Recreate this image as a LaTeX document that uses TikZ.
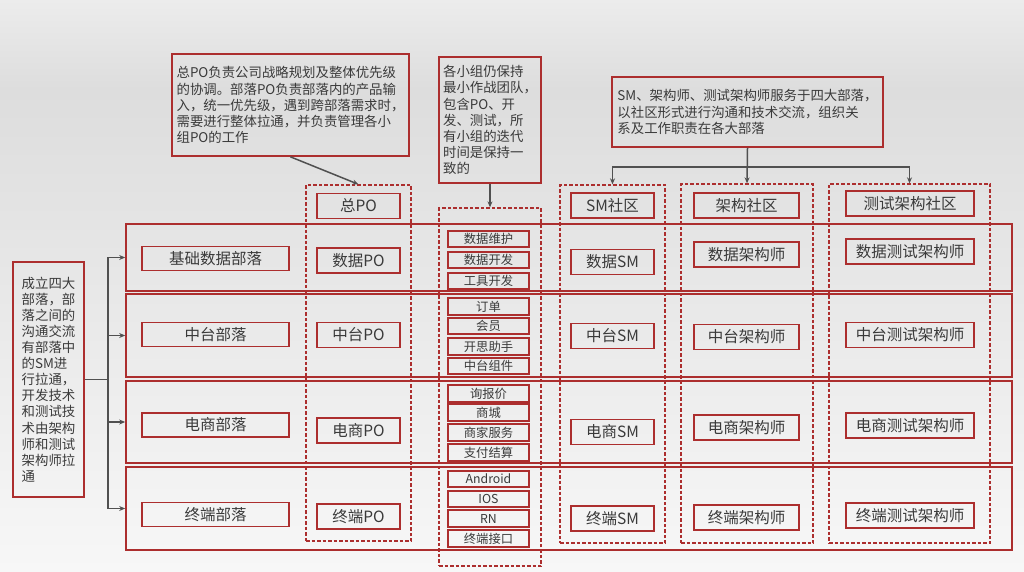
\documentclass[tikz,border=0pt]{standalone}
\usepackage{fontspec}
\setmainfont{Noto Sans CJK SC}
\usetikzlibrary{arrows.meta}
\definecolor{rd}{RGB}{172,46,46}
\definecolor{tx}{RGB}{58,58,58}
\definecolor{ln}{RGB}{80,80,80}
\definecolor{bgA}{RGB}{236,236,236}
\definecolor{bgB}{RGB}{221,221,221}
\definecolor{bgC}{RGB}{247,247,247}
\tikzset{
  rbox/.style={draw=rd,line width=1.7pt,inner sep=0pt,text=tx},
  rowbox/.style={rbox},
  colbox/.style={draw=rd,line width=1.3pt,dash pattern=on 3.5pt off 2pt,inner sep=0pt},
  bigtxt/.style={font=\fontsize{15.5}{18}\selectfont},
  smalltxt/.style={font=\fontsize{12.3}{14}\selectfont},
  calltxt/.style={font=\fontsize{13.4}{16.1}\selectfont,align=left},
  arr/.style={draw=ln,line width=1.5pt,-{Stealth[length=6pt,width=5pt]}},
  plain/.style={draw=ln,line width=1.5pt}
}
\begin{document}
\begin{tikzpicture}[x=1pt,y=-1pt]
% background
\shade[top color=bgA,bottom color=bgB] (0,0) rectangle (1024,90);
\shade[top color=bgB,bottom color=bgC] (0,90) rectangle (1024,572);
\useasboundingbox (0,0) rectangle (1024,572);

% rows (tribes)
\node[rowbox,minimum width=886pt,minimum height=67pt] (r1) at (569,257.5) {};
\node[rowbox,minimum width=886pt,minimum height=83pt] (r2) at (569,335.5) {};
\node[rowbox,minimum width=886pt,minimum height=82pt] (r3) at (569,422) {};
\node[rowbox,minimum width=886pt,minimum height=83pt] (r4) at (569,508.5) {};

% dashed columns
\node[colbox,minimum width=105pt,minimum height=356pt] (pocol) at (358.5,363) {};
\node[colbox,minimum width=102pt,minimum height=358pt] (teamcol) at (490,387) {};
\node[colbox,minimum width=105pt,minimum height=358pt] (smcol) at (612.5,364) {};
\node[colbox,minimum width=132pt,minimum height=359pt] (archcol) at (747,363.5) {};
\node[colbox,minimum width=161pt,minimum height=359pt] (testcol) at (909.5,363.5) {};

% tribe names
\node[rbox,bigtxt,minimum width=147pt,minimum height=24pt] (t1) at (215.5,258.5) {基础数据部落};
\node[rbox,bigtxt,minimum width=147pt,minimum height=24pt] (t2) at (215.5,334.5) {中台部落};
\node[rbox,bigtxt,minimum width=147pt,minimum height=24pt] (t3) at (215.5,425) {电商部落};
\node[rbox,bigtxt,minimum width=147pt,minimum height=24pt] (t4) at (215.5,514.5) {终端部落};

% PO
\node[rbox,bigtxt,minimum width=83pt,minimum height=25pt] (po0) at (358.5,206) {总PO};
\node[rbox,bigtxt,minimum width=83pt,minimum height=25pt] (po1) at (358.5,260.5) {数据PO};
\node[rbox,bigtxt,minimum width=83pt,minimum height=25pt] (po2) at (358.5,335) {中台PO};
\node[rbox,bigtxt,minimum width=83pt,minimum height=25pt] (po3) at (358.5,430.5) {电商PO};
\node[rbox,bigtxt,minimum width=83pt,minimum height=25pt] (po4) at (358.5,516.5) {终端PO};

% teams
\foreach \n/\y/\t in {a1/239/数据维护,a2/260/数据开发,a3/281/工具开发,
  b1/306.5/订单,b2/326/会员,b3/346.5/开思助手,b4/366/中台组件,
  c1/393.5/询报价,c2/412.5/商城,c3/432.5/商家服务,c4/452.5/支付结算,
  d1/479/Android,d2/499/IOS,d3/518.5/RN,d4/538.5/终端接口}
  \node[rbox,smalltxt,minimum width=81pt,minimum height=16.5pt] (\n) at (488.5,\y) {\t};

% SM
\node[rbox,bigtxt,minimum width=83pt,minimum height=25pt] (sm0) at (612.5,205.5) {SM社区};
\node[rbox,bigtxt,minimum width=83pt,minimum height=25pt] (sm1) at (612.5,262) {数据SM};
\node[rbox,bigtxt,minimum width=83pt,minimum height=25pt] (sm2) at (612.5,336) {中台SM};
\node[rbox,bigtxt,minimum width=83pt,minimum height=25pt] (sm3) at (612.5,432) {电商SM};
\node[rbox,bigtxt,minimum width=83pt,minimum height=25pt] (sm4) at (612.5,518.5) {终端SM};

% architects
\node[rbox,bigtxt,minimum width=105pt,minimum height=25pt] (ar0) at (746.5,205.5) {架构社区};
\node[rbox,bigtxt,minimum width=105pt,minimum height=25pt] (ar1) at (746.5,254.5) {数据架构师};
\node[rbox,bigtxt,minimum width=105pt,minimum height=25pt] (ar2) at (746.5,337) {中台架构师};
\node[rbox,bigtxt,minimum width=105pt,minimum height=25pt] (ar3) at (746.5,427.5) {电商架构师};
\node[rbox,bigtxt,minimum width=105pt,minimum height=25pt] (ar4) at (746.5,517.5) {终端架构师};

% test architects
\node[rbox,bigtxt,minimum width=128pt,minimum height=25pt] (te0) at (910,203.5) {测试架构社区};
\node[rbox,bigtxt,minimum width=128pt,minimum height=25pt] (te1) at (910,251.5) {数据测试架构师};
\node[rbox,bigtxt,minimum width=128pt,minimum height=25pt] (te2) at (910,335) {中台测试架构师};
\node[rbox,bigtxt,minimum width=128pt,minimum height=25pt] (te3) at (910,425.5) {电商测试架构师};
\node[rbox,bigtxt,minimum width=128pt,minimum height=25pt] (te4) at (910,515.5) {终端测试架构师};

% callouts
\node[rbox,calltxt,minimum width=237pt,minimum height=102pt] (cA) at (290.5,105)
 {总PO负责公司战略规划及整体优先级\\的协调。部落PO负责部落内的产品输\\入，统一优先级，遇到跨部落需求时，\\需要进行整体拉通，并负责管理各小\\组PO的工作};
\node[rbox,calltxt,minimum width=102pt,minimum height=126pt] (cB) at (490,120)
 {各小组仍保持\\最小作战团队，\\包含PO、开\\发、测试，所\\有小组的迭代\\时间是保持一\\致的};
\node[rbox,calltxt,minimum width=271pt,minimum height=70pt] (cC) at (747.5,112)
 {SM、架构师、测试架构师服务于四大部落，\\以社区形式进行沟通和技术交流，组织关\\系及工作职责在各大部落};
\node[rbox,calltxt,minimum width=71pt,minimum height=235pt] (cD) at (48.5,379.5)
 {成立四大\\部落，部\\落之间的\\沟通交流\\有部落中\\的SM进\\行拉通，\\开发技术\\和测试技\\术由架构\\师和测试\\架构师拉\\通};

% connectors
\draw[arr] (cA.south) -- (pocol.north);
\draw[arr] (cB.south) -- (teamcol.north);
\draw[arr] (cC.south) -- (archcol.north);
\draw[arr] (cC.south) -- ++(0,19) -| (smcol.north);
\draw[arr] (cC.south) -- ++(0,19) -| (testcol.north);
\coordinate (dj) at ([xshift=23pt]cD.east);
\draw[plain] (cD.east) -- (dj);
\draw[arr] (dj) |- (r1.west);
\draw[arr] (dj) |- (r2.west);
\draw[arr] (dj) |- (r3.west);
\draw[arr] (dj) |- (r4.west);
\end{tikzpicture}
\end{document}
